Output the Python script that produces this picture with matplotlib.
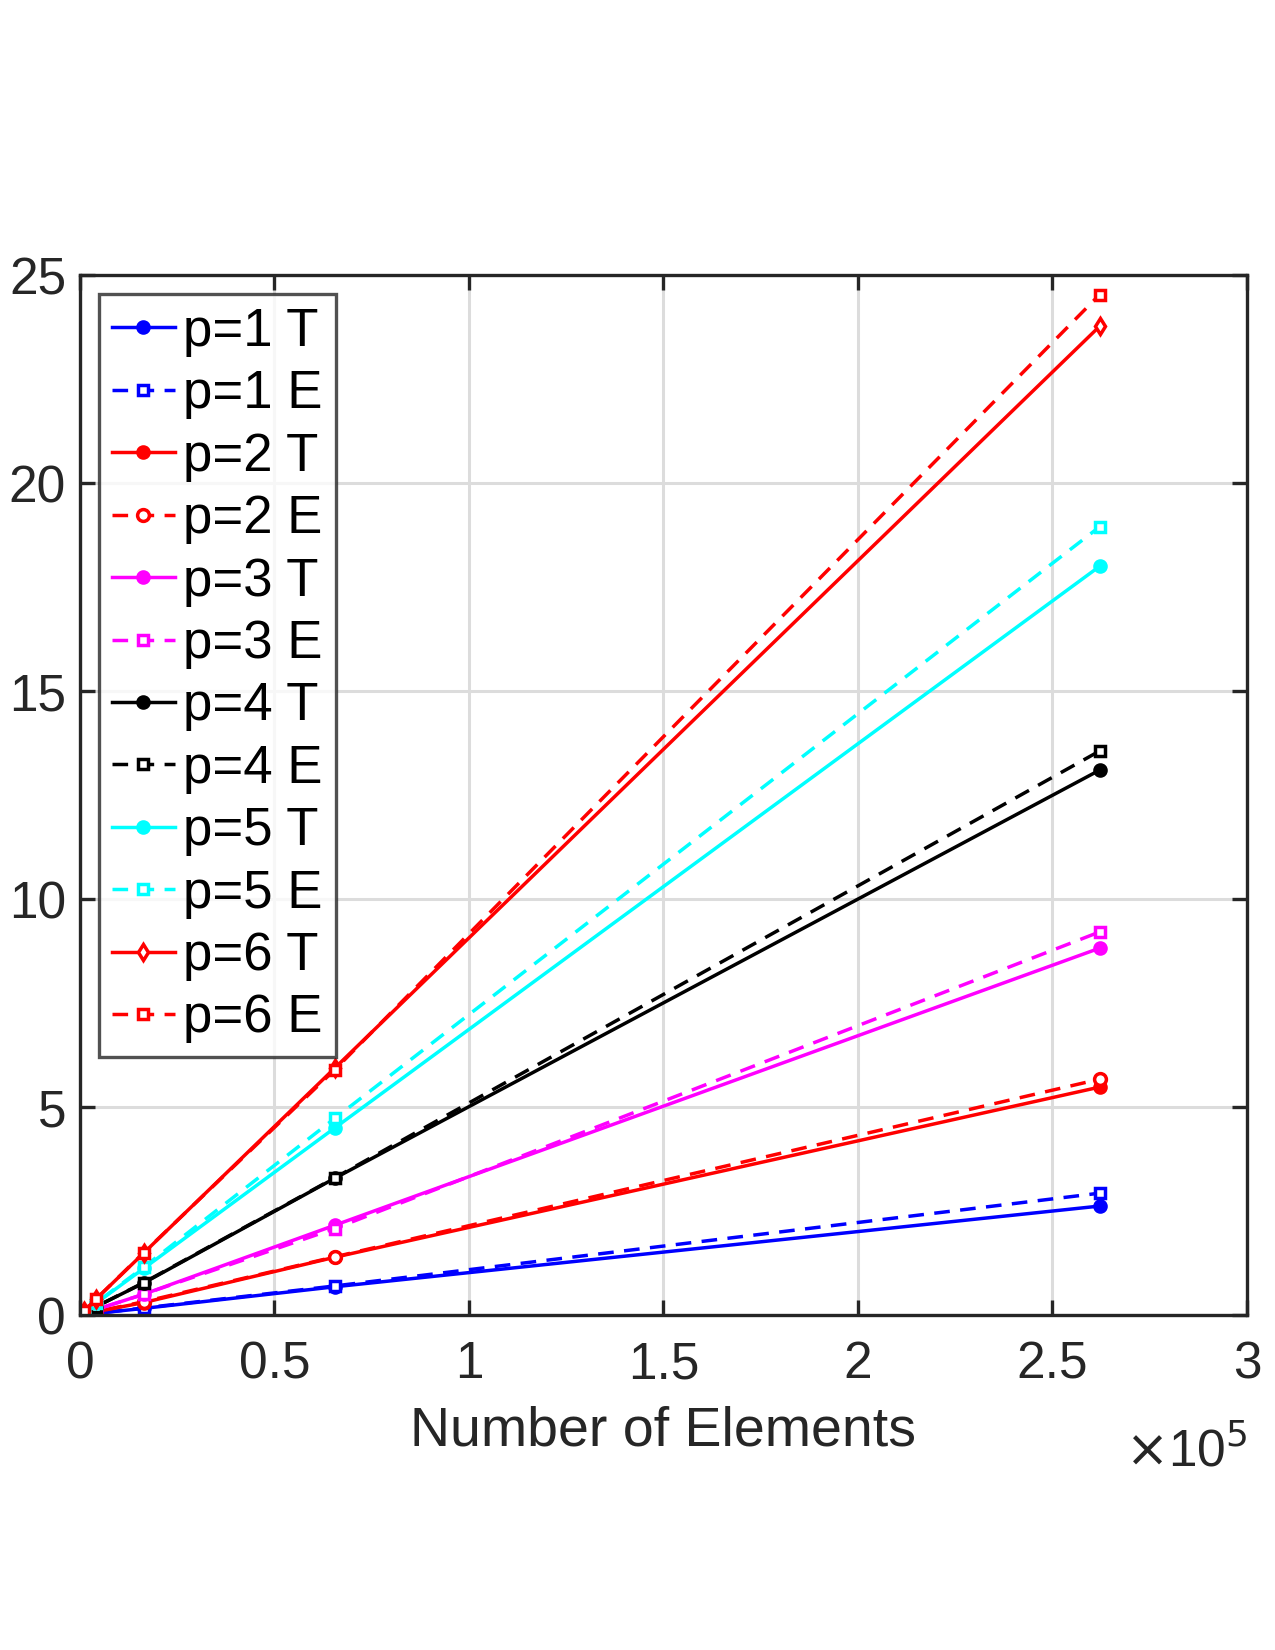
import matplotlib

matplotlib.use("Agg")
import matplotlib.pyplot as plt
from matplotlib.ticker import FuncFormatter

plt.rcParams["font.family"] = ["Liberation Sans", "DejaVu Sans"]

# number of elements
n_elem = [256, 1024, 4096, 16384, 65536, 262144]

# timings (T) and estimates (E) per polynomial order
p1_T = [0.003, 0.01, 0.04, 0.16, 0.68, 2.62]
p1_E = [0.003, 0.01, 0.04, 0.17, 0.70, 2.93]
p2_T = [0.005, 0.02, 0.08, 0.30, 1.39, 5.48]
p2_E = [0.005, 0.02, 0.08, 0.32, 1.40, 5.67]
p3_T = [0.008, 0.03, 0.13, 0.50, 2.16, 8.82]
p3_E = [0.008, 0.03, 0.13, 0.50, 2.08, 9.21]
p4_T = [0.012, 0.05, 0.20, 0.77, 3.29, 13.1]
p4_E = [0.012, 0.05, 0.20, 0.78, 3.30, 13.56]
p5_T = [0.017, 0.07, 0.28, 1.12, 4.50, 18.0]
p5_E = [0.017, 0.07, 0.29, 1.15, 4.73, 18.95]
p6_T = [0.023, 0.09, 0.38, 1.49, 5.94, 23.77]
p6_E = [0.023, 0.09, 0.38, 1.50, 5.90, 24.53]

labels = ["p=1 T", "p=1 E", "p=2 T", "p=2 E", "p=3 T", "p=3 E",
          "p=4 T", "p=4 E", "p=5 T", "p=5 E", "p=6 T", "p=6 E"]

BLUE, RED, MAG, BLK, CYAN = "#0000ff", "#ff0000", "#ff00ff", "#000000", "#00ffff"

series = [
    (p1_T, BLUE, "-", "o", True),
    (p1_E, BLUE, "--", "s", False),
    (p2_T, RED, "-", "o", True),
    (p2_E, RED, "--", "o", False),
    (p3_T, MAG, "-", "o", True),
    (p3_E, MAG, "--", "s", False),
    (p4_T, BLK, "-", "o", True),
    (p4_E, BLK, "--", "s", False),
    (p5_T, CYAN, "-", "o", True),
    (p5_E, CYAN, "--", "s", False),
    (p6_T, RED, "-", "d", False),
    (p6_E, RED, "--", "s", False),
]

fig = plt.figure(figsize=(12.75, 16.5), dpi=100)
ax = fig.add_axes([0.0627, 0.203, 0.9153, 0.6303])

for (y, c, ls, mk, filled), lab in zip(series, labels):
    ms = 8 if filled else (8.5 if mk != "s" else 6.5)
    ax.plot(
        n_elem, y,
        color=c, linestyle=ls, linewidth=2.5,
        marker=mk, markersize=ms,
        markerfacecolor=c if filled else "white",
        markeredgecolor=c, markeredgewidth=2.5,
        dashes=(4.5, 3.0) if ls == "--" else (None, None),
        label=lab,
    )

ax.set_xlim(0, 3e5)
ax.set_ylim(0, 25)
ax.set_xticks([0, 0.5e5, 1e5, 1.5e5, 2e5, 2.5e5, 3e5])
ax.set_yticks([0, 5, 10, 15, 20, 25])
ax.xaxis.set_major_formatter(FuncFormatter(lambda v, _: f"{v / 1e5:g}"))

ax.grid(True, color="#dcdcdc", linewidth=2.2)
ax.set_axisbelow(True)
for s in ax.spines.values():
    s.set_linewidth(2.4)
    s.set_color("#262626")
ax.tick_params(direction="in", length=11, width=2.4, colors="#262626",
               labelsize=37, top=True, right=True)
ax.tick_params(axis="x", pad=18)
ax.tick_params(axis="y", pad=10)

ax.set_xlabel("Number of Elements", fontsize=40, color="#262626", labelpad=12)
fig.text(0.978, 0.120, r"$\times$10$^5$", fontsize=37, color="#262626",
         ha="right", va="center")

leg = ax.legend(loc="upper left", fontsize=38, frameon=True, fancybox=False,
                edgecolor="#262626", handlelength=1.2, handletextpad=0.15,
                borderpad=0.25, labelspacing=0.235, borderaxespad=0,
                bbox_to_anchor=(0.016, 0.982))
leg.get_frame().set_linewidth(2.4)

fig.savefig("out.png", dpi=100)
